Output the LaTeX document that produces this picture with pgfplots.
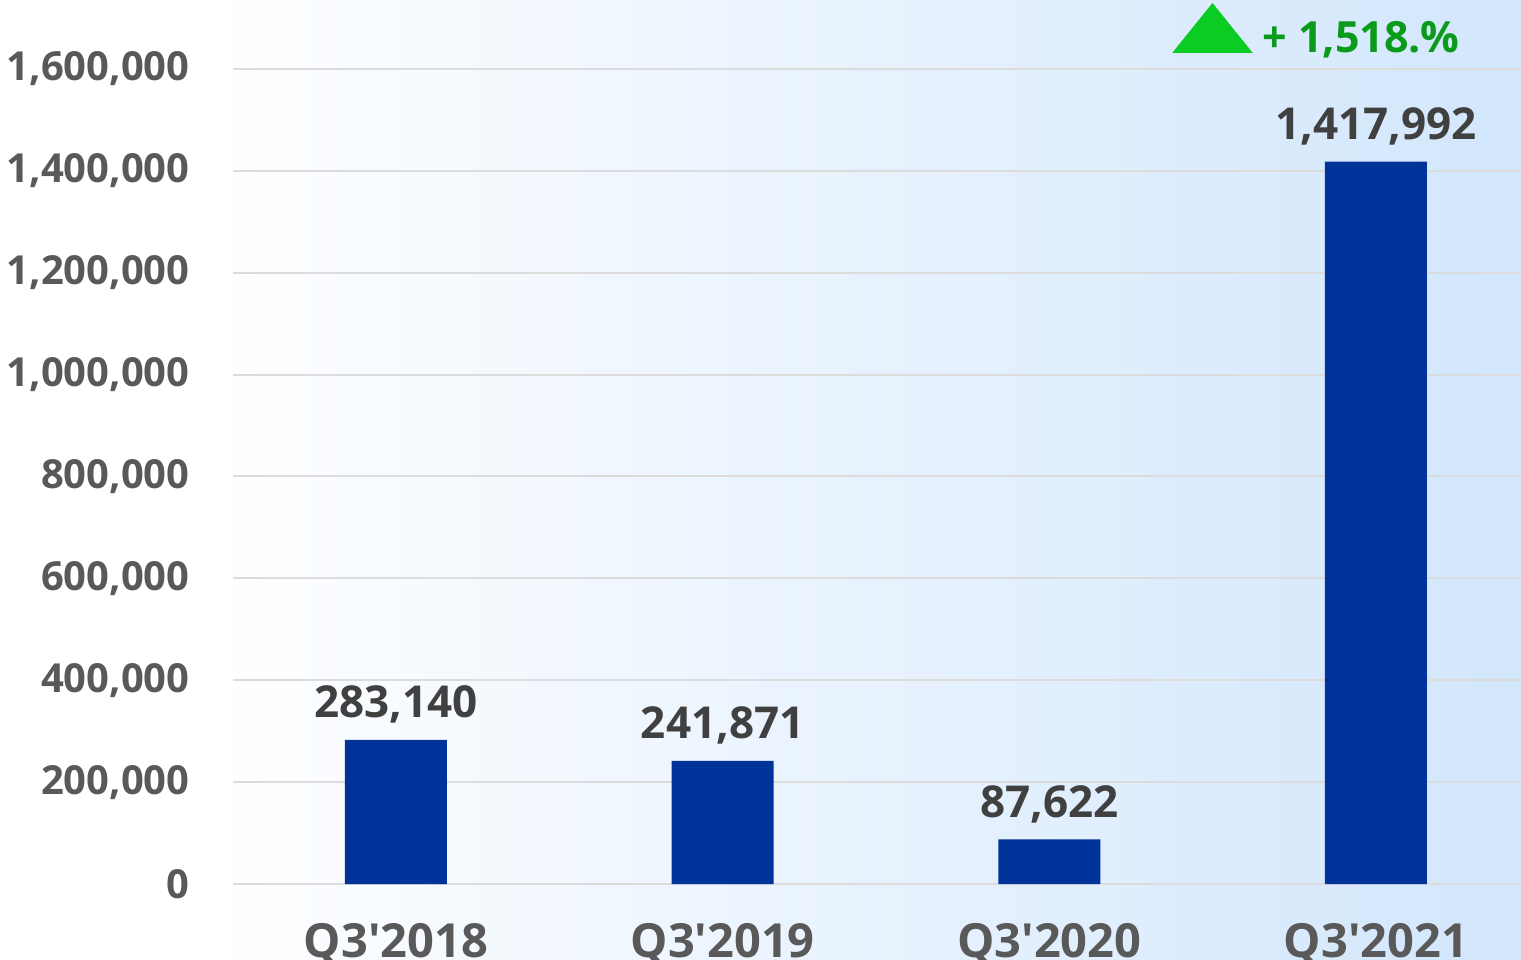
\documentclass[border=0pt]{standalone}
\usepackage{pgfplots}
\pgfplotsset{compat=1.18}
\usepackage{pgfplotstable}
\usepackage{fontspec}
\setmainfont{Open Sans}
\definecolor{barblue}{HTML}{00339A}
\definecolor{gridgray}{HTML}{DCDCDC}
\definecolor{ticklbl}{HTML}{595959}
\definecolor{datalbl}{HTML}{404040}
\definecolor{bgl}{HTML}{FDFEFF}
\definecolor{bgm}{HTML}{EEF5FD}
\definecolor{bgr}{HTML}{D2E6FC}
\definecolor{upgreen}{HTML}{0BCC22}
\definecolor{txtgreen}{HTML}{0A9B1A}

\pgfplotstableread{
x y label
0 283140 283,140
1 241871 241,871
2 87622 87,622
3 1417992 1,417,992
}\datatable

\begin{document}
\begin{tikzpicture}
\begin{axis}[
  scale only axis,
  width=644pt, height=479.5pt,
  xmin=-0.499, xmax=3.444,
  ymin=-147240, ymax=1735460,
  axis line style={draw=none},
  major tick length=0pt,
  ytick={0,200000,400000,600000,800000,1000000,1200000,1400000,1600000},
  yticklabels={0,{200,000},{400,000},{600,000},{800,000},{1,000,000},{1,200,000},{1,400,000},{1,600,000}},
  xtick={0,1,2,3},
  xticklabels={Q3\textquotesingle2018,Q3\textquotesingle2019,Q3\textquotesingle2020,Q3\textquotesingle2021},
  ymajorgrids,
  grid style={color=gridgray, line width=1pt},
  axis background/.style={left color=bgl, middle color=bgm, right color=bgr},
  yticklabel style={font=\fontsize{20}{24}\selectfont\bfseries, text=ticklbl, inner sep=0pt, anchor=east, xshift=-21.5pt},
  xticklabel style={font=\fontsize{23.5}{28}\selectfont\bfseries, text=ticklbl, inner sep=0pt, anchor=base, yshift=1pt},
  clip=false,
]
\addplot[ybar, bar width=51pt, fill=barblue, draw=none,
  point meta=explicit symbolic, nodes near coords,
  every node near coord/.append style={anchor=base, yshift=11pt, inner sep=0pt,
    font=\fontsize{22}{26}\selectfont\bfseries, text=datalbl}]
  table[x=x, y=y, meta=label]{\datatable};
\fill[upgreen] (axis cs:2.376,1631400) -- (axis cs:2.623,1631400) -- (axis cs:2.4995,1729600) -- cycle;
\node[anchor=west, inner sep=0pt, text=txtgreen, font=\fontsize{21.5}{26}\selectfont\bfseries]
  at (axis cs:2.651,1657000) {+ 1,518.\%};
\end{axis}
\pgfresetboundingbox
\path ([xshift=-116.5pt]current axis.south west) rectangle (current axis.north east);
\end{tikzpicture}
\end{document}
